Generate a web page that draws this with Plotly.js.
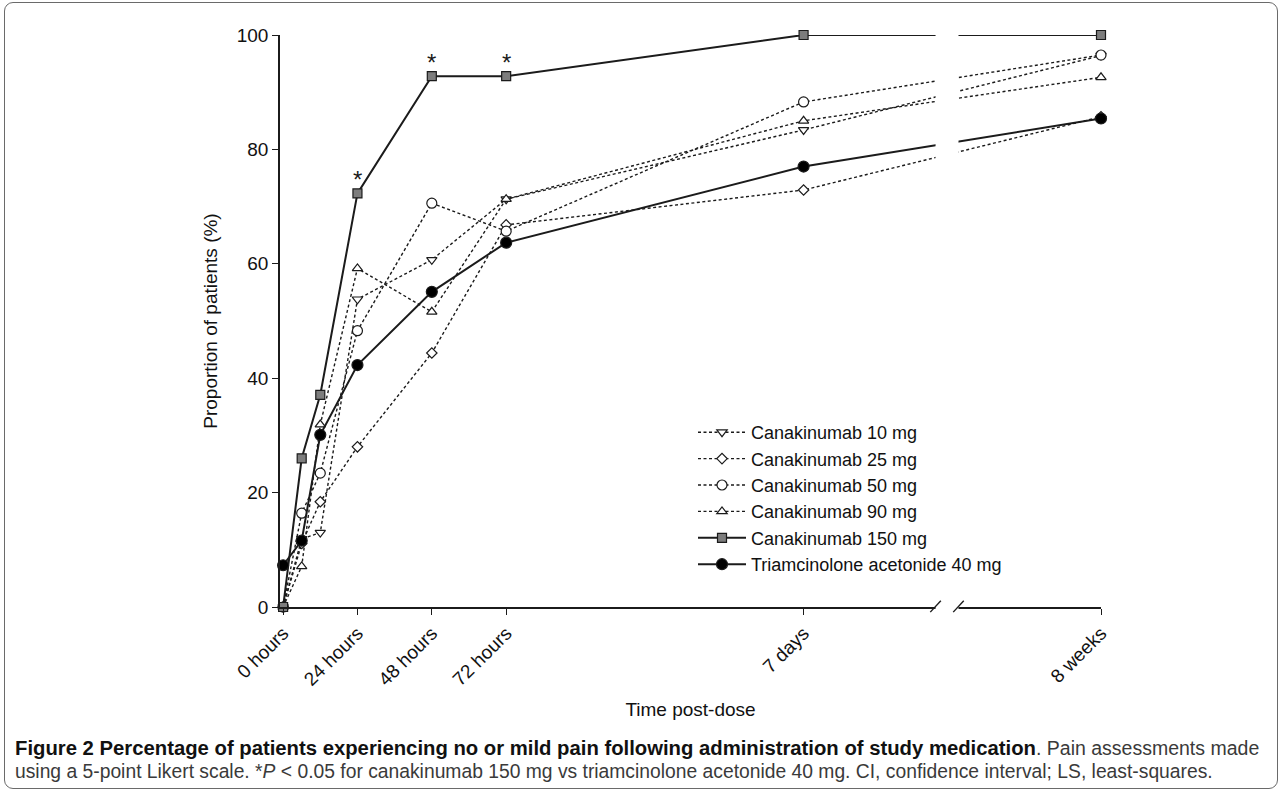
<!DOCTYPE html>
<html>
<head>
<meta charset="utf-8">
<script src="https://cdn.plot.ly/plotly-3.0.1.min.js"></script>
<style>
  html, body { margin: 0; padding: 0; background: #fff; }
  #chart { width: 1282px; height: 791px; }
  #frame { position: absolute; left: 4px; top: 2px; width: 1272px; height: 785px;
           border: 1px solid #6a6a6a; border-radius: 9px; pointer-events: none; }
</style>
</head>
<body>
<div id="chart"></div>
<div id="frame"></div>
<script>
// ---- data ----
const timeLabels = ['0 hours', '6 hours', '12 hours', '24 hours', '48 hours', '72 hours', '7 days', '8 weeks'];
const timeHours  = [0, 6, 12, 24, 48, 72, 168, 1344];
const tickLabels = ['0 hours', '24 hours', '48 hours', '72 hours', '7 days', '8 weeks'];
const tickHours  = [0, 24, 48, 72, 168, 1344];

const seriesNames = ['Canakinumab 10 mg', 'Canakinumab 25 mg', 'Canakinumab 50 mg',
                     'Canakinumab 90 mg', 'Canakinumab 150 mg', 'Triamcinolone acetonide 40 mg'];
const can10  = [0, 11.9, 13.0, 53.8, 60.7, 71.3, 83.4, 96.4];
const can25  = [0, 11.1, 18.4, 28.0, 44.4, 66.8, 72.9, 85.7];
const can50  = [0, 16.4, 23.4, 48.3, 70.6, 65.7, 88.3, 96.5];
const can90  = [0, 7.1, 31.9, 59.2, 51.6, 71.3, 85.0, 92.6];
const can150 = [0, 26.0, 37.1, 72.3, 92.8, 92.8, 100, 100];
const tria40 = [7.3, 11.6, 30.1, 42.3, 55.1, 63.7, 77.0, 85.4];
const significantTimes = ['24 hours', '48 hours', '72 hours']; // *P < 0.05, 150 mg vs TA

// ---- broken time axis scale: linear in hours up to the break, compressed after it ----
const axisScale = { breakFrom: 210.6, breakTo: 218.0, lastSegHourStart: 1176, lastSegHourEnd: 1344,
                    lastSegPosStart: 217, lastSegPosEnd: 264 };
function xPos(h) {
  if (h <= axisScale.breakFrom) return h;
  const s = axisScale;
  return s.lastSegPosStart + (h - s.lastSegHourStart) * (s.lastSegPosEnd - s.lastSegPosStart) / (s.lastSegHourEnd - s.lastSegHourStart);
}
const xs = timeHours.map(xPos);

const ink = '#1b1b1b';
const dotted = { color: ink, width: 1.4, dash: '3px,2.5px' };
const solid = { color: ink, width: 2 };

function trace(name, y, line, symbol, size, fill) {
  return {
    type: 'scatter', mode: 'lines+markers', name: name, x: xs, y: y,
    text: timeLabels, hovertemplate: '%{text}: %{y}%<extra>' + name + '</extra>',
    line: line, cliponaxis: false,
    marker: { symbol: symbol, size: size, color: fill, line: { color: ink, width: 1.2 } }
  };
}

const data = [
  trace(seriesNames[0], can10, dotted, 'triangle-down', 9, '#ffffff'),
  trace(seriesNames[1], can25, dotted, 'diamond', 8, '#ffffff'),
  trace(seriesNames[2], can50, dotted, 'circle', 10, '#ffffff'),
  trace(seriesNames[3], can90, dotted, 'triangle-up', 9, '#ffffff'),
  trace(seriesNames[4], can150, solid, 'square', 9, '#7d7d7d'),
  trace(seriesNames[5], tria40, solid, 'circle', 11, '#000000')
];

const sans = "'Liberation Sans', Arial, sans-serif";

const annotations = significantTimes.map(t => {
  const i = timeLabels.indexOf(t);
  return { x: xs[i], y: can150[i], xref: 'x', yref: 'y', text: '*', showarrow: false,
           yshift: 14, font: { family: sans, size: 24, color: ink } };
});

// caption (figure legend text)
annotations.push({
  xref: 'paper', yref: 'paper', x: (13 - 280) / 821, y: (607 - 748) / 572,
  xanchor: 'left', yanchor: 'middle', showarrow: false, align: 'left',
  text: '<b><span style="font-size:20.3px">Figure 2 Percentage of patients experiencing no or mild pain following administration of study medication</span></b><span style="color:#3a3a3a">. Pain assessments made</span>',
  font: { family: sans, size: 19.5, color: '#111' }
});
annotations.push({
  xref: 'paper', yref: 'paper', x: (13 - 280) / 821, y: (607 - 772) / 572,
  xanchor: 'left', yanchor: 'middle', showarrow: false, align: 'left',
  text: 'using a 5-point Likert scale. *<i>P</i> &lt; 0.05 for canakinumab 150 mg vs triamcinolone acetonide 40 mg. CI, confidence interval; LS, least-squares.',
  font: { family: sans, size: 19.3, color: '#3a3a3a' }
});

// axis break: white gap over lines and axis, plus two slashes
const gapC1 = axisScale.breakFrom, gapC2 = axisScale.breakTo;
const shapes = [
  { type: 'rect', xref: 'x', yref: 'paper', x0: gapC1, x1: gapC2, y0: -0.006, y1: 1.02,
    fillcolor: '#ffffff', line: { width: 0 }, layer: 'above' },
  { type: 'line', xref: 'x', yref: 'paper', x0: gapC1 - 1.7, x1: gapC1 + 1.7, y0: -0.009, y1: 0.011,
    line: { color: ink, width: 1.4 }, layer: 'above' },
  { type: 'line', xref: 'x', yref: 'paper', x0: gapC2 - 1.7, x1: gapC2 + 1.7, y0: -0.009, y1: 0.011,
    line: { color: ink, width: 1.4 }, layer: 'above' }
];

const axisFont = { family: sans, size: 19, color: '#111' };

const layout = {
  width: 1282, height: 791,
  margin: { l: 280, r: 181, t: 35, b: 184 },
  paper_bgcolor: '#ffffff', plot_bgcolor: '#ffffff',
  font: axisFont,
  showlegend: true,
  legend: {
    x: (693 - 280) / 821, y: (607 - 414) / 572, xanchor: 'left', yanchor: 'top',
    bgcolor: 'rgba(0,0,0,0)', borderwidth: 0,
    font: { family: sans, size: 18, color: '#111' },
    itemwidth: 48, tracegroupgap: 0
  },
  xaxis: {
    range: [-1, 264], tickmode: 'array', tickvals: tickHours.map(xPos), ticktext: tickLabels,
    tickangle: -45, ticks: 'outside', ticklen: 6, tickwidth: 1.4, tickcolor: ink,
    showline: true, linecolor: ink, linewidth: 1.5, showgrid: false, zeroline: false,
    tickfont: axisFont,
    title: { text: 'Time post-dose', font: { family: sans, size: 19, color: '#111' }, standoff: 14 }
  },
  yaxis: {
    range: [0, 100], tickvals: [0, 20, 40, 60, 80, 100],
    ticks: 'outside', ticklen: 6, tickwidth: 1.4, tickcolor: ink,
    showline: true, linecolor: ink, linewidth: 1.5, showgrid: false, zeroline: false,
    tickfont: axisFont,
    title: { text: 'Proportion of patients (%)', font: { family: sans, size: 19, color: '#111' }, standoff: 14 }
  },
  annotations: annotations,
  shapes: shapes
};

Plotly.newPlot('chart', data, layout, { displayModeBar: false, responsive: false });
</script>
</body>
</html>
